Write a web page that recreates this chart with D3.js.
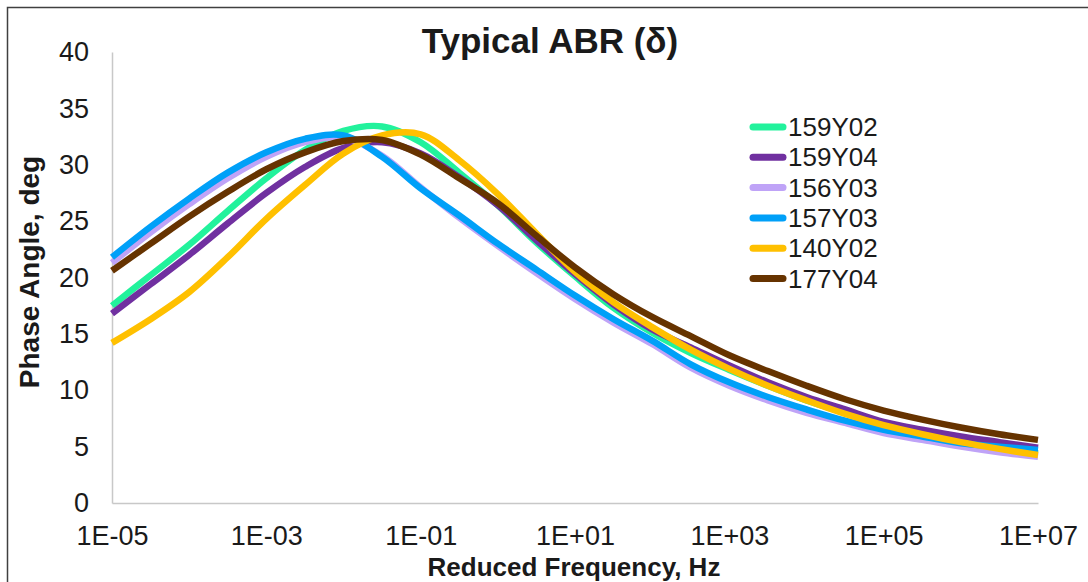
<!DOCTYPE html>
<html>
  <head>
    <meta charset="utf-8">
    <title>Typical ABR</title>
    <script src="https://d3js.org/d3.v7.min.js"></script>
    <style>
      body { margin: 0; background: #fff; }
      text { font-family: "Liberation Sans", Arial, sans-serif; }
    </style>
  </head>
  <body>
    <svg width="1088" height="582"></svg>
    <script>
    // log10 of reduced frequency, every half decade
    var logFreq = [-5, -4.5, -4, -3.5, -3, -2.5, -2, -1.5, -1, -0.5, 0, 0.5, 1,
                   1.5, 2, 2.5, 3, 3.5, 4, 4.5, 5, 5.5, 6, 6.5, 7];

    // phase angle (deg)
    var s159Y02 = [17.5, 20.2, 22.9, 25.9, 28.8, 31.3, 33.0, 33.4, 32.0, 29.3, 26.4, 23.1, 20.1, 17.3, 15.1, 13.3, 11.8, 10.4, 9.1, 8.0, 7.0, 6.2, 5.5, 4.9, 4.4];
    var s159Y04 = [16.8, 19.4, 22.0, 24.8, 27.5, 29.8, 31.5, 32.0, 31.0, 28.9, 26.4, 23.3, 20.3, 17.6, 15.4, 13.8, 12.2, 10.7, 9.4, 8.3, 7.2, 6.5, 5.9, 5.4, 4.9];
    var s156Y03 = [21.3, 24.0, 26.5, 28.8, 30.7, 32.0, 32.4, 30.8, 28.0, 25.3, 22.8, 20.4, 18.1, 16.0, 14.1, 12.0, 10.4, 9.1, 8.0, 7.1, 6.2, 5.6, 5.0, 4.5, 4.1];
    var s157Y03 = [21.8, 24.5, 27.0, 29.3, 31.1, 32.3, 32.6, 30.7, 27.9, 25.5, 23.0, 20.7, 18.4, 16.3, 14.4, 12.3, 10.7, 9.4, 8.3, 7.3, 6.5, 5.9, 5.3, 5.0, 4.7];
    var s140Y02 = [14.2, 16.3, 18.7, 21.8, 25.2, 28.2, 31.0, 32.6, 32.7, 30.4, 27.4, 23.9, 20.5, 17.8, 15.6, 13.6, 11.9, 10.4, 9.1, 7.9, 6.9, 6.1, 5.4, 4.8, 4.25];
    var s177Y04 = [20.6, 23.0, 25.4, 27.6, 29.6, 31.1, 32.1, 32.2, 30.9, 28.8, 26.6, 23.7, 20.9, 18.5, 16.5, 14.8, 13.1, 11.7, 10.4, 9.2, 8.2, 7.4, 6.7, 6.1, 5.6];

    var seriesNames = ["159Y02", "159Y04", "156Y03", "157Y03", "140Y02", "177Y04"];
    var seriesColors = ["#22F29C", "#7030A0", "#BFA3F7", "#00A0F8", "#FFC000", "#663300"];
    var seriesValues = [s159Y02, s159Y04, s156Y03, s157Y03, s140Y02, s177Y04];

    var xTicks = [1e-5, 1e-3, 1e-1, 1e1, 1e3, 1e5, 1e7];
    var yTicks = [0, 5, 10, 15, 20, 25, 30, 35, 40];

    var svg = d3.select("svg");

    //frame
    svg.append("rect")
        .attr("x", 7.5).attr("y", 7.5)
        .attr("width", 1100).attr("height", 600)
        .attr("fill", "none")
        .attr("stroke", "#404040")
        .attr("stroke-width", 1.5);

    var margin = {top: 52, left: 112, right: 50, bottom: 79};
    var width = 1088 - margin.left - margin.right;
    var height = 582 - margin.top - margin.bottom;

    var g = svg.append("g").attr("transform", "translate(" + margin.left + "," + margin.top + ")");

    var x = d3.scaleLog().domain([1e-5, 1e7]).range([0, width]);
    var y = d3.scaleLinear().domain([0, 40]).range([height, 0]);

    function fmtExp(v) {
      var e = Math.round(Math.log10(v));
      var s = (e < 0 ? "-" : "+") + (Math.abs(e) < 10 ? "0" : "") + Math.abs(e);
      return "1E" + s;
    }

    //x axis
    var xAxis = g.append("g")
        .attr("transform", "translate(0," + height + ")")
        .call(d3.axisBottom(x).tickValues(xTicks).tickFormat(fmtExp).tickSize(0).tickPadding(23));
    xAxis.select(".domain").attr("stroke", "#c8c8c8").attr("stroke-width", 1.5);
    xAxis.selectAll("text").attr("font-size", 27).attr("fill", "#1a1a1a")
        .style("font-family", "'Liberation Sans', Arial, sans-serif");

    //y axis
    var yAxis = g.append("g")
        .call(d3.axisLeft(y).tickValues(yTicks).tickSize(0).tickPadding(23));
    yAxis.select(".domain").attr("stroke", "#c8c8c8").attr("stroke-width", 1.5);
    yAxis.selectAll("text").attr("font-size", 27).attr("fill", "#1a1a1a")
        .style("font-family", "'Liberation Sans', Arial, sans-serif");

    //curves
    var line = d3.line()
        .x(function(d) { return x(Math.pow(10, d[0])); })
        .y(function(d) { return y(d[1]); })
        .curve(d3.curveCatmullRom.alpha(0.5));

    seriesValues.forEach(function(vals, i) {
      var pts = logFreq.map(function(l, j) { return [l, vals[j]]; });
      g.append("path")
          .datum(pts)
          .attr("fill", "none")
          .attr("stroke", seriesColors[i])
          .attr("stroke-width", 6.5)
          .attr("d", line);
    });

    //title
    svg.append("text")
        .attr("x", 550).attr("y", 53)
        .attr("text-anchor", "middle")
        .attr("font-size", 35).attr("font-weight", "bold")
        .attr("fill", "#1a1a1a")
        .text("Typical ABR (δ)");

    //axis titles
    svg.append("text")
        .attr("x", 574).attr("y", 576)
        .attr("text-anchor", "middle")
        .attr("font-size", 26).attr("font-weight", "bold")
        .attr("fill", "#1a1a1a")
        .text("Reduced Frequency, Hz");

    svg.append("text")
        .attr("transform", "translate(39,272) rotate(-90)")
        .attr("text-anchor", "middle")
        .attr("font-size", 28).attr("font-weight", "bold")
        .attr("fill", "#1a1a1a")
        .text("Phase Angle, deg");

    //legend
    var legend = svg.append("g")
      .selectAll("g")
      .data(seriesNames)
      .enter().append("g")
        .attr("transform", function(d, i) { return "translate(750," + (127 + i * 30.3) + ")"; });

    legend.append("line")
        .attr("x1", 3).attr("x2", 33)
        .attr("stroke", function(d, i) { return seriesColors[i]; })
        .attr("stroke-width", 7)
        .attr("stroke-linecap", "round");

    legend.append("text")
        .attr("x", 38)
        .attr("dy", "0.35em")
        .attr("font-size", 26)
        .attr("fill", "#1a1a1a")
        .text(function(d) { return d; });
    </script>
  </body>
</html>
